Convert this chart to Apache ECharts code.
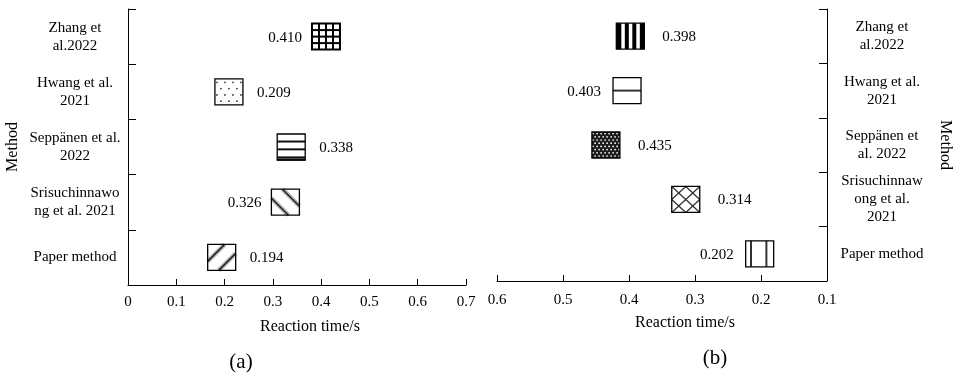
<!DOCTYPE html>
<html><head><meta charset="utf-8">
<script src="https://cdn.jsdelivr.net/npm/echarts@6/dist/echarts.min.js"></script>
<style>html,body{margin:0;padding:0;background:#fff}#c{width:957px;height:376px}</style>
</head><body><div id="c"></div>
<script>
// ---- data ----
const methodLabelsA = ['Zhang et\nal.2022', 'Hwang et al.\n2021', 'Seppänen et al.\n2022', 'Srisuchinnawo\nng et al. 2021', 'Paper method'];
const methodLabelsB = ['Zhang et\nal.2022', 'Hwang et al.\n2021', 'Seppänen et\nal. 2022', 'Srisuchinnaw\nong et al.\n2021', 'Paper method'];
const reactionA = [0.410, 0.209, 0.338, 0.326, 0.194];
const reactionB = [0.398, 0.403, 0.435, 0.314, 0.202];
const xTicksA = [0, 0.1, 0.2, 0.3, 0.4, 0.5, 0.6, 0.7];
const xTicksB = [0.1, 0.2, 0.3, 0.4, 0.5, 0.6];
const axisTitle = 'Reaction time/s';
const methodTitle = 'Method';
const panelTitles = ['(a)', '(b)'];

// ---- styles (kept apart from data) ----
const patternsA = ['grid', 'dots', 'hlines', 'backslash', 'slash'];
const labelSideA = ['left', 'right', 'right', 'left', 'right'];
const patternsB = ['vstripes', 'midline', 'dense', 'diamond', 'twolines'];
const labelSideB = ['right', 'left', 'right', 'right', 'left'];
const FONT = 'Liberation Serif, Times New Roman, serif';
const W = 28, H = 26;

function seg(a, b, c, w, h) {
  const pts = [];
  const eps = 1e-6;
  if (Math.abs(b) > eps) {
    let y = c / b; if (y >= -eps && y <= h + eps) pts.push([0, y]);
    y = (c - a * w) / b; if (y >= -eps && y <= h + eps) pts.push([w, y]);
  }
  if (Math.abs(a) > eps) {
    let x = c / a; if (x >= -eps && x <= w + eps) pts.push([x, 0]);
    x = (c - b * h) / a; if (x >= -eps && x <= w + eps) pts.push([x, h]);
  }
  if (pts.length < 2) return null;
  let best = null, bd = -1;
  for (let i = 0; i < pts.length; i++) for (let j = i + 1; j < pts.length; j++) {
    const d = Math.hypot(pts[i][0] - pts[j][0], pts[i][1] - pts[j][1]);
    if (d > bd) { bd = d; best = [pts[i], pts[j]]; }
  }
  if (bd < 0.5) return null;
  return best;
}
function lineEl(p, stroke, lw) {
  return { type: 'line', shape: { x1: p[0][0], y1: p[0][1], x2: p[1][0], y2: p[1][1] }, style: { stroke: stroke, lineWidth: lw } };
}
function patternEls(kind, w, h) {
  const els = [];
  let borderW = 1.3;
  els.push({ type: 'rect', shape: { x: 0, y: 0, width: w, height: h }, style: { fill: '#fff' } });
  if (kind === 'grid') {
    [0.25, 0.5, 0.75].forEach(f => {
      els.push(lineEl([[w * f, 0], [w * f, h]], '#000', 2));
      els.push(lineEl([[0, h * f], [w, h * f]], '#000', 2));
    });
    borderW = 2;
  } else if (kind === 'dots') {
    for (let r = 0; r < 4; r++) {
      const y = 3.5 + r * 6.3;
      for (let k = 0; k < 4; k++) {
        const x = (r % 2 ? 6 : 2) + k * 8;
        if (x < w - 1) els.push({ type: 'circle', shape: { cx: x, cy: y, r: 0.9 }, style: { fill: '#333' } });
      }
    }
  } else if (kind === 'hlines') {
    [0.29, 0.59, 0.9].forEach(f => els.push(lineEl([[0, h * f], [w, h * f]], '#111', 2)));
    els.push(lineEl([[0, h - 0.5], [w, h - 0.5]], '#333', 2.5));
  } else if (kind === 'backslash' || kind === 'slash') {
    const cs = kind === 'slash' ? [(w + h) / 2 - 10, (w + h) / 2 + 10] : [(w - h) / 2 - 10, (w - h) / 2 + 10];
    cs.forEach(c => {
      const p = kind === 'slash' ? seg(1, 1, c, w, h) : seg(1, -1, c, w, h);
      if (p) { els.push(lineEl(p, '#bbb', 4.5)); els.push(lineEl(p, '#222', 1.6)); }
    });
  } else if (kind === 'vstripes') {
    [[0, 5], [8.5, 12.5], [16, 20], [23.5, 28]].forEach(s => {
      els.push({ type: 'rect', shape: { x: s[0] * w / 28, y: 0, width: (s[1] - s[0]) * w / 28, height: h }, style: { fill: '#000' } });
    });
  } else if (kind === 'midline') {
    els.push(lineEl([[0, h / 2], [w, h / 2]], '#333', 2));
  } else if (kind === 'dense') {
    els.push({ type: 'rect', shape: { x: 0, y: 0, width: w, height: h }, style: { fill: '#1c1c1c' } });
    for (let r = 0; r * 3.2 < h; r++) {
      const y = 1.6 + r * 3.2;
      for (let k = 0; k < 12; k++) {
        const x = (r % 2 ? 3.2 : 1.2) + k * 4;
        if (x < w) els.push({ type: 'circle', shape: { cx: x, cy: y, r: 0.85 }, style: { fill: '#fff' } });
      }
    }
  } else if (kind === 'diamond') {
    [0.5, 1, 1.5].forEach(k => { const p = seg(1 / w, 1 / h, k, w, h); if (p) els.push(lineEl(p, '#333', 1.3)); });
    [-0.5, 0, 0.5].forEach(k => { const p = seg(1 / w, -1 / h, k, w, h); if (p) els.push(lineEl(p, '#333', 1.3)); });
  } else if (kind === 'twolines') {
    [0.19, 0.74].forEach(f => els.push(lineEl([[w * f, 0], [w * f, h]], '#333', 2)));
  }
  els.push({ type: 'rect', shape: { x: 0, y: 0, width: w, height: h }, style: { fill: 'none', stroke: '#000', lineWidth: borderW } });
  return els;
}
function makeRender(patterns, sides, gapL, gapR) {
  return function (params, api) {
    const i = params.dataIndex;
    const v = api.value(0);
    const pt = api.coord([v, api.value(1)]);
    const x0 = pt[0] - W / 2, y0 = pt[1] - H / 2;
    const side = sides[i];
    const txt = {
      type: 'text',
      style: {
        text: v.toFixed(3),
        x: side === 'left' ? -gapL : W + gapR,
        y: H / 2 + 1,
        align: side === 'left' ? 'right' : 'left',
        verticalAlign: 'middle',
        fontFamily: FONT, fontSize: 15, fill: '#000'
      }
    };
    return { type: 'group', x: x0, y: y0, children: patternEls(patterns[i], W, H).concat([txt]) };
  };
}

const chart = echarts.init(document.getElementById('c'));
const axisLine = { show: true, lineStyle: { color: '#000', width: 1 } };
const tickLabel = { color: '#000', fontFamily: FONT, fontSize: 15 };

chart.setOption({
  animation: false,
  backgroundColor: '#fff',
  grid: [
    { left: 128, top: 9, width: 338, height: 276 },
    { left: 497, top: 9, width: 330, height: 272 }
  ],
  xAxis: [
    {
      type: 'value', gridIndex: 0, min: xTicksA[0], max: xTicksA[xTicksA.length - 1], interval: 0.1,
      axisLine: axisLine, axisTick: { show: true, inside: true, length: 6, lineStyle: { color: '#000' } },
      splitLine: { show: false },
      axisLabel: Object.assign({ margin: 10 }, tickLabel),
      name: axisTitle, nameLocation: 'middle', nameGap: 34,
      nameTextStyle: { color: '#000', fontFamily: FONT, fontSize: 16, padding: [0, 0, 0, 26] }
    },
    {
      type: 'value', gridIndex: 1, min: xTicksB[0], max: xTicksB[xTicksB.length - 1], interval: 0.1, inverse: true,
      axisLine: axisLine, axisTick: { show: true, inside: true, length: 6, lineStyle: { color: '#000' } },
      splitLine: { show: false },
      axisLabel: Object.assign({ margin: 12 }, tickLabel),
      name: axisTitle, nameLocation: 'middle', nameGap: 34,
      nameTextStyle: { color: '#000', fontFamily: FONT, fontSize: 16, padding: [0, 0, 0, 46] }
    }
  ],
  yAxis: [
    {
      type: 'category', gridIndex: 0, data: methodLabelsA, inverse: true,
      axisLine: axisLine, axisTick: { show: true, inside: true, length: 8, lineStyle: { color: '#000' } },
      axisLabel: Object.assign({ margin: 53, align: 'center', lineHeight: 18 }, tickLabel),
      name: methodTitle, nameLocation: 'middle', nameGap: 107, nameRotate: 90,
      nameTextStyle: { color: '#000', fontFamily: FONT, fontSize: 16 }
    },
    {
      type: 'category', gridIndex: 1, data: methodLabelsB, inverse: true, position: 'right',
      axisLine: axisLine, axisTick: { show: true, inside: true, length: 8, lineStyle: { color: '#000' } },
      axisLabel: Object.assign({ margin: 55, align: 'center', lineHeight: 18 }, tickLabel),
      name: methodTitle, nameLocation: 'middle', nameGap: 110, nameRotate: -90,
      nameTextStyle: { color: '#000', fontFamily: FONT, fontSize: 16 }
    }
  ],
  graphic: [
    { type: 'text', x: 241, y: 362, style: { text: panelTitles[0], align: 'center', verticalAlign: 'middle', fontFamily: FONT, fontSize: 21, fill: '#000' } },
    { type: 'text', x: 715, y: 358, style: { text: panelTitles[1], align: 'center', verticalAlign: 'middle', fontFamily: FONT, fontSize: 21, fill: '#000' } }
  ],
  series: [
    {
      type: 'custom', xAxisIndex: 0, yAxisIndex: 0, clip: false, silent: true,
      data: reactionA.map((v, i) => [v, i]), encode: { x: 0, y: 1 },
      renderItem: makeRender(patternsA, labelSideA, 10, 14)
    },
    {
      type: 'custom', xAxisIndex: 1, yAxisIndex: 1, clip: false, silent: true,
      data: reactionB.map((v, i) => [v, i]), encode: { x: 0, y: 1 },
      renderItem: makeRender(patternsB, labelSideB, 12, 18)
    }
  ]
});
</script>
</body></html>
